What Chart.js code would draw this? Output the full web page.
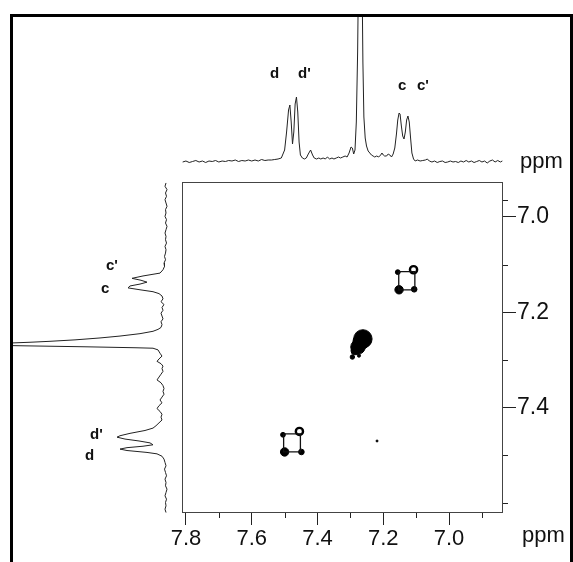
<!DOCTYPE html>
<html>
<head>
<meta charset="utf-8">
<script src="https://cdn.jsdelivr.net/npm/chart.js@4"></script>
<style>
  body { margin: 0; background: #fff; }
  #wrap { position: relative; width: 573px; height: 562px; overflow: hidden; font-family: 'Liberation Sans', Arial, sans-serif; }
  canvas { position: absolute; }
  #frame { position: absolute; left: 10px; top: 14px; width: 557px; height: 560px;
           border-top: 3px solid #000; border-left: 3px solid #000; border-right: 3px solid #000; }
  .lbl { position: absolute; font-weight: bold; font-size: 15px; line-height: 15px; color: #111; }
  .unit { position: absolute; font-size: 22px; line-height: 22px; color: #111; }
</style>
</head>
<body>
<div id="wrap">
  <canvas id="main" width="573" height="562" style="left:0;top:0"></canvas>
  <canvas id="top" width="321" height="153" style="left:182px;top:17px"></canvas>
  <canvas id="side" width="160" height="331" style="left:13px;top:182px"></canvas>
  <div id="frame"></div>
  <div class="lbl" style="left:270px;top:65px">d</div>
  <div class="lbl" style="left:298px;top:65px">d'</div>
  <div class="lbl" style="left:398px;top:77px">c</div>
  <div class="lbl" style="left:417px;top:77px">c'</div>
  <div class="lbl" style="left:106px;top:257px">c'</div>
  <div class="lbl" style="left:101px;top:280px">c</div>
  <div class="lbl" style="left:90px;top:426px">d'</div>
  <div class="lbl" style="left:85px;top:447px">d</div>
  <div class="unit" style="left:520px;top:150px">ppm</div>
  <div class="unit" style="left:522px;top:524px">ppm</div>
</div>
<script>
// axis ranges (ppm) and ticks
const xRange = [6.836, 7.812];
const yRange = [6.927, 7.621];
const xTicks = [7.8, 7.7, 7.6, 7.5, 7.4, 7.3, 7.2, 7.1, 7.0, 6.9];
const xTickLabels = ['7.8', '7.6', '7.4', '7.2', '7.0'];
const yTicks = [6.964, 7.0, 7.1, 7.2, 7.3, 7.4, 7.5, 7.6];
const yTickLabels = ['7.0', '7.2', '7.4'];

// 1D projection on top (ppm, intensity)
const topPpm = [7.810, 7.800, 7.790, 7.780, 7.770, 7.760, 7.750, 7.740, 7.730, 7.720, 7.710, 7.700,
  7.690, 7.680, 7.670, 7.660, 7.650, 7.640, 7.630, 7.620, 7.610, 7.600, 7.590, 7.580, 7.570, 7.560,
  7.550, 7.540, 7.530, 7.520, 7.510, 7.500, 7.494, 7.488, 7.484, 7.480, 7.476, 7.472, 7.468, 7.464,
  7.460, 7.456, 7.452, 7.446, 7.440, 7.434, 7.428, 7.421, 7.415, 7.410, 7.403, 7.396, 7.390, 7.383,
  7.376, 7.370, 7.363, 7.356, 7.350, 7.343, 7.336, 7.330, 7.323, 7.316, 7.310, 7.304, 7.298, 7.294,
  7.290, 7.286, 7.282, 7.278, 7.275, 7.272, 7.268, 7.265, 7.262, 7.259, 7.255, 7.251, 7.246, 7.241,
  7.236, 7.231, 7.226, 7.220, 7.214, 7.208, 7.204, 7.200, 7.196, 7.190, 7.185, 7.180, 7.175, 7.170,
  7.165, 7.160, 7.156, 7.152, 7.149, 7.145, 7.141, 7.137, 7.133, 7.129, 7.125, 7.121, 7.117, 7.113,
  7.108, 7.103, 7.096, 7.088, 7.080, 7.072, 7.066, 7.060, 7.052, 7.044, 7.036, 7.028, 7.020, 7.012,
  7.004, 6.996, 6.988, 6.980, 6.972, 6.964, 6.956, 6.948, 6.940, 6.932, 6.924, 6.916, 6.908, 6.900,
  6.892, 6.884, 6.876, 6.868, 6.860, 6.852, 6.844, 6.838];
const topInt = [0, 1, -0.5, 0.5, 1.5, 0, 1, -0.5, 1, 0.5, 1.5, 0,
  1, 0.5, 1.5, 1, 2, 0.5, 1.5, 1, 2, 1, 2, 1, 2.5, 1.5,
  2, 2, 2.5, 3, 4, 12, 30, 52, 57, 40, 18, 30, 58, 65,
  50, 20, 7, 4, 3, 4, 8, 12, 7, 4, 3, 4, 3, 4,
  3, 5, 3, 4, 3, 4, 5, 4, 5, 6, 5, 9, 15, 14,
  8, 12, 40, 110, 200, 300, 300, 200, 100, 45, 24, 16, 11, 9,
  7, 6, 5, 6, 5, 7, 9, 7, 6, 6, 8, 7, 5, 8,
  14, 28, 42, 49, 48, 36, 26, 23, 30, 42, 46, 40, 24, 9,
  3, 1, 2, 1, 1.5, 2, 3, 1, 0, 1, -0.5, 0.5, 1, -0.5,
  0, 1, 0, 0.5, -0.5, 1, 0, 1.5, 0, 1, -0.5, 0.5, 1.5, 0,
  1, -1, 1, 2, 0, 1.5, 0, 1];

// 1D projection on the left (ppm, intensity)
const sidePpm = [6.929, 6.936, 6.943, 6.950, 6.957, 6.964, 6.971, 6.978, 6.985, 6.992, 6.999, 7.006,
  7.013, 7.020, 7.027, 7.034, 7.041, 7.048, 7.055, 7.062, 7.069, 7.076, 7.083, 7.090, 7.097, 7.104,
  7.111, 7.118, 7.124, 7.129, 7.133, 7.137, 7.141, 7.145, 7.149, 7.153, 7.157, 7.161, 7.166, 7.172,
  7.178, 7.184, 7.190, 7.196, 7.202, 7.208, 7.214, 7.220, 7.226, 7.232, 7.236, 7.240, 7.245, 7.250,
  7.254, 7.258, 7.261, 7.263, 7.265, 7.2665, 7.268, 7.2695, 7.2705, 7.2715, 7.2725, 7.2735, 7.2745,
  7.2755, 7.279, 7.286, 7.292, 7.298, 7.303, 7.308, 7.313, 7.318, 7.324, 7.330, 7.336, 7.342, 7.348,
  7.354, 7.360, 7.366, 7.372, 7.378, 7.384, 7.390, 7.396, 7.402, 7.408, 7.414, 7.420, 7.426, 7.432,
  7.438, 7.443, 7.448, 7.454, 7.459, 7.462, 7.466, 7.470, 7.474, 7.478, 7.481, 7.484, 7.487, 7.490,
  7.494, 7.497, 7.502, 7.508, 7.515, 7.522, 7.529, 7.536, 7.543, 7.550, 7.557, 7.564, 7.571, 7.578,
  7.585, 7.592, 7.599, 7.606, 7.613, 7.620];
const sideInt = [-1, 0, -2, -0.5, -1.5, 0, -1, -2, -0.5, -1, 0, -1.5,
  -0.5, -2, -1, 0, -1, -0.5, -1.5, 0, -1, -0.5, 0.5, -0.5, 1, 0.5,
  2, 5, 22, 33, 24, 18, 25, 35, 37, 25, 12, 6, 3, 2,
  4, 1, 3, 2, 4, 3, 2, 4, 3, 4, 7, 12, 25, 45,
  65, 90, 115, 135, 160, 175, 175, 170, 140, 110, 80, 55, 30,
  12, 7, 5, 3, 6, 8, 4, 2, 3, 2, 4, 6, 8, 4,
  2, 1, 2, 1, 3, 5, 3, 6, 8, 5, 3, 4, 3, 6,
  9, 12, 20, 35, 45, 48, 40, 26, 15, 12, 22, 38, 45, 38,
  18, 8, 3, 1, 0, -1, 0.5, -0.5, -1.5, 0, -1, -0.5, -2, -1,
  0, -1.5, -0.5, -1, 0, -1];

// 2D cross peaks (ppm F2, ppm F1, relative contour intensity)
const cPeaksX = [7.156, 7.108, 7.152, 7.106];
const cPeaksY = [7.116, 7.111, 7.153, 7.152];
const cPeaksI = [0.6, 0.9, 1.05, 0.7];
const cBoxX = [7.153, 7.104];
const cBoxY = [7.115, 7.153];
const dPeaksX = [7.505, 7.455, 7.500, 7.449];
const dPeaksY = [7.457, 7.450, 7.493, 7.493];
const dPeaksI = [0.6, 0.9, 1.05, 0.7];
const dBoxX = [7.503, 7.452];
const dBoxY = [7.455, 7.493];
// diagonal peak (solvent) and small artefacts
const diagX = [7.262, 7.268, 7.277, 7.286, 7.294, 7.274, 7.219];
const diagY = [7.256, 7.262, 7.273, 7.281, 7.294, 7.291, 7.470];
const diagI = [2.3, 2.0, 1.8, 1.0, 0.55, 0.4, 0.25];

const isMajor = (v, list) => list.includes(Number(v).toFixed(1)) && Math.abs(v * 10 - Math.round(v * 10)) < 1e-6;

function pts(xs, ys) { return xs.map((x, i) => ({ x: x, y: ys[i] })); }
function box(bx, by) {
  return [{ x: bx[0], y: by[0] }, { x: bx[1], y: by[0] }, { x: bx[1], y: by[1] },
          { x: bx[0], y: by[1] }, { x: bx[0], y: by[0] }];
}

const frameTicks = {
  id: 'frameTicks',
  afterDraw(chart) {
    const { ctx, chartArea: a, scales } = chart;
    ctx.save();
    ctx.strokeStyle = '#444';
    ctx.lineWidth = 1;
    ctx.strokeRect(a.left + 0.5, a.top + 0.5, a.right - a.left - 1, a.bottom - a.top - 1);
    ctx.strokeStyle = '#222';
    ctx.beginPath();
    scales.x.ticks.forEach(t => {
      if (isMajor(t.value, xTickLabels)) return;
      const px = Math.round(scales.x.getPixelForValue(t.value)) + 0.5;
      ctx.moveTo(px, a.bottom); ctx.lineTo(px, a.bottom + 5);
    });
    scales.y.ticks.forEach(t => {
      if (isMajor(t.value, yTickLabels)) return;
      const py = Math.round(scales.y.getPixelForValue(t.value)) + 0.5;
      ctx.moveTo(a.right, py); ctx.lineTo(a.right + 5, py);
    });
    ctx.stroke();
    ctx.restore();
  }
};

const tickFont = { family: "'Liberation Sans', Arial, sans-serif", size: 22 };

new Chart(document.getElementById('main'), {
  type: 'scatter',
  data: {
    datasets: [
      { type: 'line', data: box(cBoxX, cBoxY), borderColor: '#111', borderWidth: 1.3, pointRadius: 0, fill: false },
      { type: 'line', data: box(dBoxX, dBoxY), borderColor: '#111', borderWidth: 1.3, pointRadius: 0, fill: false },
      { data: pts(cPeaksX, cPeaksY), intensity: cPeaksI },
      { data: pts(dPeaksX, dPeaksY), intensity: dPeaksI },
      { data: pts(diagX, diagY), intensity: diagI }
    ]
  },
  options: {
    responsive: false,
    animation: false,
    layout: { padding: { left: 182, top: 182, right: 0, bottom: 0 } },
    plugins: { legend: { display: false }, tooltip: { enabled: false } },
    elements: {
      point: {
        radius: c => 4 * (c.dataset.intensity ? c.dataset.intensity[c.dataIndex] : 0),
        backgroundColor: c => (c.datasetIndex < 4 && c.dataIndex === 1) ? '#fff' : '#000',
        borderColor: '#000',
        borderWidth: c => (c.datasetIndex < 4 && c.dataIndex === 1) ? 2.4 : 1
      }
    },
    scales: {
      x: {
        type: 'linear', reverse: true, min: xRange[0], max: xRange[1], position: 'bottom',
        afterBuildTicks: s => { s.ticks = xTicks.map(v => ({ value: v })); },
        afterFit: s => { s.height = 49; },
        border: { display: false },
        grid: { drawOnChartArea: false, tickLength: 12, tickWidth: 1,
                tickColor: c => isMajor(c.tick.value, xTickLabels) ? '#222' : 'rgba(0,0,0,0)' },
        ticks: { autoSkip: false, maxRotation: 0, padding: 1, color: '#111', font: tickFont,
                 callback: v => isMajor(v, xTickLabels) ? Number(v).toFixed(1) : '' }
      },
      y: {
        type: 'linear', reverse: true, min: yRange[0], max: yRange[1], position: 'right',
        afterBuildTicks: s => { s.ticks = yTicks.map(v => ({ value: v })); },
        afterFit: s => { s.width = 70; },
        border: { display: false },
        grid: { drawOnChartArea: false, tickLength: 13, tickWidth: 1,
                tickColor: c => isMajor(c.tick.value, yTickLabels) ? '#222' : 'rgba(0,0,0,0)' },
        ticks: { autoSkip: false, padding: 1, color: '#111', font: { family: tickFont.family, size: 23 },
                 callback: v => isMajor(v, yTickLabels) ? Number(v).toFixed(1) : '' }
      }
    }
  },
  plugins: [frameTicks]
});

// top projection
new Chart(document.getElementById('top'), {
  type: 'scatter',
  data: { datasets: [{ data: pts(topPpm, topInt), showLine: true, borderColor: '#222', borderWidth: 1, pointRadius: 0, tension: 0 }] },
  options: {
    responsive: false, animation: false,
    plugins: { legend: { display: false }, tooltip: { enabled: false } },
    scales: {
      x: { type: 'linear', reverse: true, min: xRange[0], max: xRange[1], display: false },
      y: { type: 'linear', min: -8, max: 145, display: false }
    }
  }
});

// left projection
new Chart(document.getElementById('side'), {
  type: 'scatter',
  data: { datasets: [{ data: pts(sideInt, sidePpm), showLine: true, borderColor: '#222', borderWidth: 1, pointRadius: 0, tension: 0 }] },
  options: {
    responsive: false, animation: false,
    plugins: { legend: { display: false }, tooltip: { enabled: false } },
    scales: {
      x: { type: 'linear', reverse: true, min: -8, max: 152, display: false },
      y: { type: 'linear', reverse: true, min: yRange[0], max: yRange[1], display: false }
    }
  }
});
</script>
</body>
</html>
